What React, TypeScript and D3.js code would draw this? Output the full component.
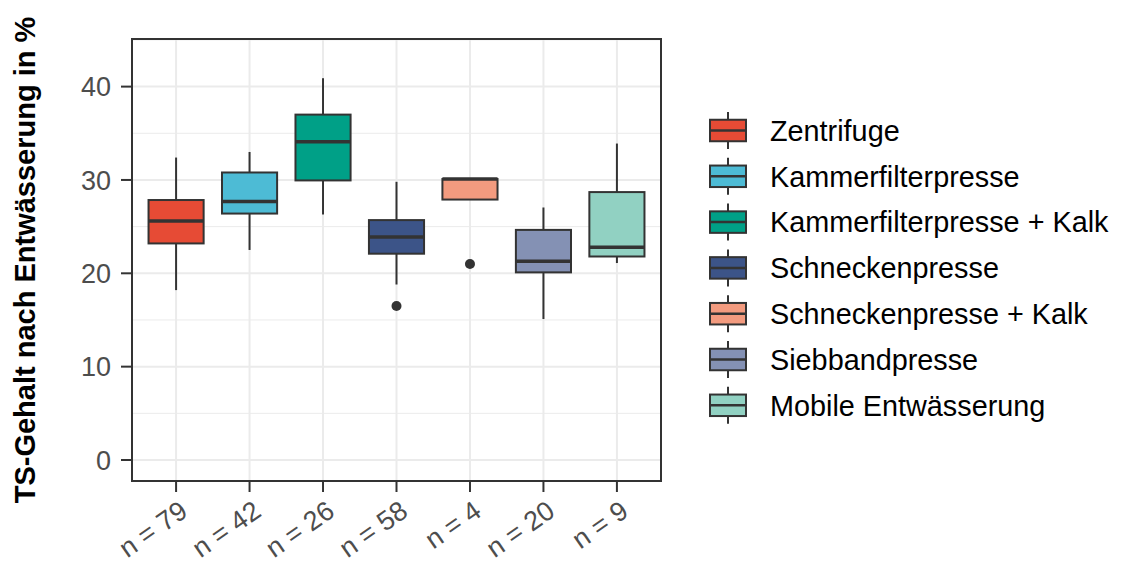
import React from "react";
import * as d3 from "d3";

const categories = [
  "Zentrifuge",
  "Kammerfilterpresse",
  "Kammerfilterpresse + Kalk",
  "Schneckenpresse",
  "Schneckenpresse + Kalk",
  "Siebbandpresse",
  "Mobile Entwässerung",
];
const nLabels = ["n = 79", "n = 42", "n = 26", "n = 58", "n = 4", "n = 20", "n = 9"];
const colors = ["#E64B35", "#4DBBD5", "#00A087", "#3C5488", "#F39B7F", "#8491B4", "#91D1C2"];
const whiskerLow = [18.2, 22.5, 26.3, 18.8, 27.9, 15.1, 21.1];
const q1 = [23.2, 26.4, 29.95, 22.1, 27.9, 20.1, 21.8];
const median = [25.6, 27.7, 34.1, 23.9, 30.1, 21.3, 22.8];
const q3 = [27.85, 30.8, 37.0, 25.7, 30.1, 24.65, 28.7];
const whiskerHigh = [32.4, 33.0, 40.9, 29.8, 30.1, 27.05, 33.9];
const outliers: number[][] = [[], [], [], [16.5], [21.0], [], []];
const yTicks = [0, 10, 20, 30, 40];
const yMinor = [5, 15, 25, 35, 45];

const W = 1124;
const H = 566;
const panel = { left: 132, right: 661, top: 39, bottom: 481 };
const font = "'Liberation Sans', Arial, sans-serif";
const dark = "#333333";

export default function App() {
  const x = d3
    .scalePoint<string>()
    .domain(categories)
    .range([panel.left, panel.right])
    .padding(0.6);
  const y = d3.scaleLinear().domain([-2.25, 45.1]).range([panel.bottom, panel.top]);
  const boxW = x.step() * 0.75;

  const legendX = 728;
  const legendY0 = 130.5;
  const legendStep = 45.8;

  return (
    <svg
      width={W}
      height={H}
      style={{ position: "absolute", left: 0, top: 0, background: "#fff" }}
      fontFamily={font}
    >
      <rect x={0} y={0} width={W} height={H} fill="#fff" />
      {/* grid */}
      {yMinor.map((v) => (
        <line key={"mi" + v} x1={panel.left} x2={panel.right} y1={y(v)} y2={y(v)} stroke="#EBEBEB" strokeWidth={1} />
      ))}
      {yTicks.map((v) => (
        <line key={"ma" + v} x1={panel.left} x2={panel.right} y1={y(v)} y2={y(v)} stroke="#EBEBEB" strokeWidth={2} />
      ))}
      {categories.map((c) => (
        <line key={"vg" + c} x1={x(c)} x2={x(c)} y1={panel.top} y2={panel.bottom} stroke="#EBEBEB" strokeWidth={2} />
      ))}
      {/* boxes */}
      {categories.map((c, i) => {
        const cx = x(c)!;
        return (
          <g key={"b" + c}>
            <line x1={cx} x2={cx} y1={y(whiskerHigh[i])} y2={y(q3[i])} stroke={dark} strokeWidth={2} />
            <line x1={cx} x2={cx} y1={y(q1[i])} y2={y(whiskerLow[i])} stroke={dark} strokeWidth={2} />
            <rect
              x={cx - boxW / 2}
              y={y(q3[i])}
              width={boxW}
              height={Math.max(0, y(q1[i]) - y(q3[i]))}
              fill={colors[i]}
              stroke={dark}
              strokeWidth={2}
            />
            <line x1={cx - boxW / 2} x2={cx + boxW / 2} y1={y(median[i])} y2={y(median[i])} stroke={dark} strokeWidth={3.5} />
            {outliers[i].map((o, j) => (
              <circle key={j} cx={cx} cy={y(o)} r={5} fill={dark} />
            ))}
          </g>
        );
      })}
      {/* panel border */}
      <rect
        x={panel.left}
        y={panel.top}
        width={panel.right - panel.left}
        height={panel.bottom - panel.top}
        fill="none"
        stroke={dark}
        strokeWidth={2}
      />
      {/* y axis */}
      {yTicks.map((v) => (
        <g key={"yt" + v}>
          <line x1={panel.left - 11} x2={panel.left} y1={y(v)} y2={y(v)} stroke={dark} strokeWidth={2} />
          <text x={panel.left - 21} y={y(v)} dy="0.36em" textAnchor="end" fontSize={27} fill="#4D4D4D">
            {v}
          </text>
        </g>
      ))}
      {/* x axis */}
      {categories.map((c, i) => {
        const cx = x(c)!;
        return (
          <g key={"xt" + c}>
            <line x1={cx} x2={cx} y1={panel.bottom} y2={panel.bottom + 11} stroke={dark} strokeWidth={2} />
            <text
              transform={`translate(${cx + 2},${panel.bottom + 18}) rotate(-35)`}
              textAnchor="end"
              dy="0.72em"
              fontSize={27}
              fill="#4D4D4D"
            >
              {nLabels[i]}
            </text>
          </g>
        );
      })}
      {/* y title */}
      <text
        transform={`translate(35,${(panel.top + panel.bottom) / 2}) rotate(-90)`}
        textAnchor="middle"
        fontSize={29}
        fontWeight="bold"
        fill="#000"
      >
        TS-Gehalt nach Entwässerung in %
      </text>
      {/* legend */}
      {categories.map((c, i) => {
        const cy = legendY0 + i * legendStep;
        const bw = 36;
        const bh = 21.5;
        return (
          <g key={"lg" + c}>
            <line x1={legendX} x2={legendX} y1={cy - 18.5} y2={cy + 18.5} stroke={dark} strokeWidth={2} />
            <rect x={legendX - bw / 2} y={cy - bh / 2} width={bw} height={bh} fill={colors[i]} stroke={dark} strokeWidth={2} />
            <line x1={legendX - bw / 2} x2={legendX + bw / 2} y1={cy} y2={cy} stroke={dark} strokeWidth={2.5} />
            <text x={770} y={cy} dy="0.36em" fontSize={28.8} fill="#000">
              {c}
            </text>
          </g>
        );
      })}
    </svg>
  );
}
